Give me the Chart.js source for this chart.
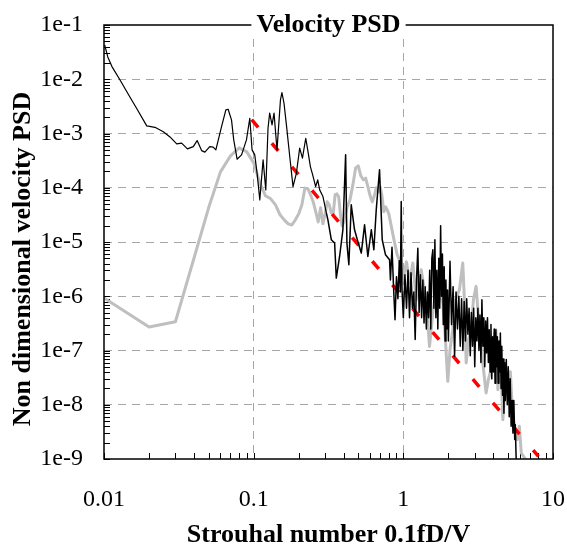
<!DOCTYPE html>
<html>
<head>
<meta charset="utf-8">
<script src="https://cdn.jsdelivr.net/npm/chart.js@4.4.0/dist/chart.umd.min.js"></script>
<style>
  html, body { margin: 0; padding: 0; background: #fff; }
  #wrap { width: 567px; height: 546px; }
</style>
</head>
<body>
<div id="wrap"><canvas id="psd" width="567" height="546"></canvas></div>
<script>
// axes: decades and their labels
const xDecades = [0.01, 0.1, 1, 10];
const xTickLabels = ['0.01', '0.1', '1', '10'];
const yDecades = [1e-9, 1e-8, 1e-7, 1e-6, 1e-5, 1e-4, 1e-3, 1e-2, 1e-1];
const yTickLabels = ['1e-9', '1e-8', '1e-7', '1e-6', '1e-5', '1e-4', '1e-3', '1e-2', '1e-1'];

// black line (noisy PSD)
const blackX = [
  0.0101, 0.0106, 0.0113, 0.0128, 0.0145, 0.0165, 0.0193, 0.0219, 0.0249, 0.0276,
  0.0306, 0.033, 0.0361, 0.0395, 0.0419, 0.0449, 0.0472, 0.0509, 0.0536, 0.0559,
  0.061, 0.0652, 0.0675, 0.0711, 0.0736, 0.0775, 0.083, 0.0895, 0.0942, 0.0976,
  0.1017, 0.1057, 0.1099, 0.1156, 0.1205, 0.1247, 0.1279, 0.1327, 0.1368, 0.1432,
  0.151, 0.1545, 0.1595, 0.1655, 0.1742, 0.1832, 0.193, 0.203, 0.2118, 0.2228,
  0.2307, 0.2393, 0.2479, 0.2595, 0.2679, 0.2761, 0.2904, 0.3062, 0.3134, 0.3304,
  0.3475, 0.3565, 0.3751, 0.3946, 0.4115, 0.4198, 0.4325, 0.4487, 0.4721, 0.4966,
  0.5236, 0.5508, 0.5794, 0.6109, 0.6353, 0.6592, 0.6934, 0.7228, 0.7603, 0.8091,
  0.82, 0.84, 0.86, 0.88, 0.90, 0.92, 0.94, 0.955, 0.968, 0.98,
  1.0, 1.025, 1.05, 1.075, 1.1, 1.125, 1.15, 1.175, 1.2, 1.225,
  1.25, 1.275, 1.3, 1.325, 1.35, 1.375, 1.4, 1.425, 1.45, 1.475,
  1.5, 1.525, 1.55, 1.575, 1.6, 1.625, 1.65, 1.675, 1.7, 1.725,
  1.75, 1.775, 1.8, 1.825, 1.85, 1.875, 1.9, 1.925, 1.95, 1.975,
  2.0, 2.05, 2.1, 2.15, 2.2, 2.25, 2.3, 2.35, 2.4, 2.45,
  2.5, 2.55, 2.6, 2.65, 2.7, 2.75, 2.8, 2.85, 2.9, 2.95,
  3.0, 3.05, 3.1, 3.15, 3.2, 3.25, 3.3, 3.35, 3.4, 3.45,
  3.5, 3.55, 3.6, 3.65, 3.7, 3.75, 3.8, 3.85, 3.9, 3.95,
  4.0, 4.05, 4.1, 4.15, 4.2, 4.25, 4.3, 4.35, 4.4, 4.45,
  4.5, 4.55, 4.6, 4.65, 4.7, 4.75, 4.8, 4.875, 4.95, 5.025,
  5.1, 5.175, 5.25, 5.325, 5.4, 5.475, 5.55, 5.6, 5.66, 5.78
];
const blackY = [
  4.3e-2, 2.58e-2, 1.71e-2, 9.7e-3, 5.36e-3, 2.92e-3, 1.38e-3, 1.3e-3, 1.08e-3, 8.65e-4,
  6.45e-4, 6.64e-4, 5.2e-4, 5.74e-4, 7.4e-4, 4.84e-4, 4.53e-4, 5.74e-4, 5.6e-4, 4.99e-4,
  1.34e-3, 2.72e-3, 2.8e-3, 1.78e-3, 7.62e-4, 3.36e-4, 4.04e-4, 7.62e-4, 1.91e-3, 4.99e-4,
  4.04e-4, 1.73e-4, 5.98e-5, 3.27e-4, 9.14e-5, 1.25e-3, 2.37e-3, 1.44e-3, 2.37e-3, 4.99e-4,
  4.16e-3, 5.66e-3, 3.61e-3, 1.44e-3, 3.76e-4, 1.05e-4, 1.86e-4, 5.36e-4, 3.51e-4, 8.18e-4,
  4.65e-4, 2.46e-4, 1.73e-4, 1.05e-4, 1.4e-4, 9.14e-5, 6.89e-5, 3.4e-5, 2.56e-5, 1.1e-5,
  9.55e-6, 2.16e-6, 5.41e-6, 1.68e-5, 4.04e-4, 9.55e-6, 3.8e-6, 4.84e-5, 1.68e-5, 1.02e-5,
  6.25e-6, 2.07e-5, 5.41e-6, 1.68e-5, 7.18e-6, 3.92e-5, 2.14e-4, 1.1e-5, 5.81e-6, 4.7e-6,
  2.0e-6, 8.0e-6, 1.5e-6, 3.7e-7, 2.3e-6, 9e-7, 4.5e-6, 1.2e-6, 5.57e-5, 1.3e-6,
  4.0e-7, 2.5e-6, 6e-7, 3.0e-6, 4e-7, 2.7e-6, 6e-7, 1.2e-6, 1.6e-7, 2.0e-6,
  7.7e-6, 5e-7, 2.5e-6, 4e-7, 2.0e-6, 3.2e-7, 1.5e-6, 2.5e-7, 1.2e-6, 4e-7,
  3.0e-6, 2.5e-7, 5e-6, 7.2e-6, 6e-7, 1.1e-5, 4e-7, 3e-6, 2.5e-7, 5e-6,
  6e-7, 2.0e-5, 1.0e-6, 6e-6, 3e-7, 3.5e-6, 1.5e-7, 2e-6, 2.5e-7, 1.3e-6,
  1.5e-7, 4.4e-6, 3e-7, 1.5e-6, 7.8e-8, 1.2e-6, 2.5e-7, 1.0e-6, 1.2e-7, 9e-7,
  1.0e-7, 8e-7, 1.5e-7, 9e-7, 2e-7, 6e-7, 8e-8, 5e-7, 1.2e-7, 6e-7,
  5e-8, 4e-7, 1.5e-7, 6e-7, 1e-7, 4.5e-7, 6e-8, 8.6e-7, 1.2e-7, 4e-7,
  5e-8, 3.5e-7, 9e-8, 4e-7, 6e-8, 2.4e-7, 4e-8, 3e-7, 3e-8, 1.8e-7,
  4e-8, 2.5e-7, 2.5e-8, 2.4e-7, 5e-8, 1.8e-7, 2.5e-8, 1.5e-7, 4e-8, 2.1e-7,
  2e-8, 1.2e-7, 1.5e-8, 7e-8, 7e-9, 6e-8, 1.2e-8, 6.8e-8, 1.0e-8, 5e-8,
  6e-9, 3e-8, 4e-9, 1.2e-8, 3e-9, 1.2e-8, 2.3e-9, 4.3e-9, 1.26e-9, 2e-10
];

// grey line
const grayX = [
  0.01, 0.02, 0.03, 0.04, 0.05, 0.06, 0.07, 0.08, 0.09, 0.1,
  0.11, 0.12, 0.13, 0.14, 0.15, 0.16, 0.17, 0.18, 0.19, 0.2,
  0.21, 0.22, 0.23, 0.24, 0.25, 0.26, 0.27, 0.28, 0.29, 0.3,
  0.31, 0.32, 0.33, 0.34, 0.35, 0.36, 0.37, 0.38, 0.39, 0.4,
  0.42, 0.44, 0.46, 0.48, 0.5, 0.52, 0.54, 0.56, 0.58, 0.6,
  0.62, 0.64, 0.66, 0.68, 0.7, 0.72, 0.74, 0.76, 0.78, 0.8,
  0.82, 0.85, 0.88, 0.91, 0.94, 0.97, 1.0, 1.05, 1.099, 1.157,
  1.219, 1.262, 1.316, 1.364, 1.422, 1.496, 1.573, 1.64, 1.699, 1.836,
  1.911, 1.982, 2.05, 2.138, 2.228, 2.371, 2.495, 2.559, 2.63, 2.722,
  2.838, 2.94, 3.063, 3.148, 3.223, 3.376, 3.572, 3.698, 3.855, 3.998,
  4.15, 4.285, 4.446, 4.624, 4.805, 5.031, 5.188, 5.346, 5.521, 5.78,
  5.96, 6.14, 6.53, 6.84
];
const grayY = [
  9.27e-7, 2.71e-7, 3.39e-7, 5.12e-6, 4.27e-5, 1.96e-4, 3.87e-4, 5.43e-4, 4.58e-4, 2.87e-4,
  1.22e-4, 7.1e-5, 6.25e-5, 4.84e-5, 3.17e-5, 2.56e-5, 2.16e-5, 2.06e-5, 2.56e-5, 3.3e-5,
  4.84e-5, 9.84e-5, 9.6e-5, 7.4e-5, 5.5e-5, 3.6e-5, 2.35e-5, 4.27e-5, 2.16e-5, 3.3e-5,
  5.5e-5, 4.84e-5, 3.45e-5, 3.3e-5, 7.4e-5, 7.7e-5, 6.8e-5, 3.17e-5, 1.99e-5, 2.35e-5,
  4.27e-5, 5.98e-5, 1.13e-4, 2.32e-4, 2.53e-4, 1.66e-4, 1.4e-4, 1.5e-4, 1.04e-4, 7.1e-5,
  5.5e-5, 7.1e-5, 1e-4, 8.4e-5, 1.04e-4, 7.1e-5, 3.6e-5, 4.45e-5, 3.92e-5, 3.3e-5,
  2.35e-5, 1.42e-5, 8.9e-6, 5.8e-6, 4.7e-6, 3.08e-6, 2.19e-6, 4.3e-6, 1.75e-6, 4.1e-6,
  8.63e-7, 2.01e-6, 3.08e-6, 1.63e-6, 7.5e-7, 1.19e-7, 4.91e-7, 1.07e-6, 1.32e-6, 7.5e-7,
  1.58e-7, 2.7e-8, 1.03e-7, 2.42e-7, 8.63e-7, 1.32e-6, 4.1e-6, 8.63e-7, 5.89e-8, 1.58e-7,
  2.42e-7, 8.63e-7, 1.52e-6, 5.64e-7, 2.42e-7, 6.78e-8, 1.65e-8, 2.9e-8, 4.43e-8, 1.58e-7,
  2.42e-7, 1.9e-8, 1.03e-7, 5.3e-9, 2.9e-8, 1.24e-8, 4.07e-8, 8.1e-9, 4.0e-9, 2.28e-9,
  4e-9, 1.29e-9, 1.0e-9, 1.5e-10
];

// red dashed reference slope
const redX = [0.097, 8.0];
const redY = [1.8e-3, 1.12e-9];

const serif = '"Liberation Serif", "Times New Roman", serif';
const toPoints = (xs, ys) => xs.map((x, i) => ({ x: x, y: ys[i] }));

function decadeIndex(v, decades) {
  return decades.findIndex(d => Math.abs(Math.log10(v / d)) < 1e-6);
}
// 1..9 in every decade, like the original minor ticks
function logTicks(decades) {
  const out = [];
  for (let i = 0; i < decades.length - 1; i++) {
    for (let m = 1; m <= 9; m++) out.push({ value: decades[i] * m });
  }
  out.push({ value: decades[decades.length - 1] });
  return out;
}
function gridColor(c, decades) {
  if (!c.tick) return 'transparent';
  const i = decadeIndex(c.tick.value, decades);
  return (i > 0 && i < decades.length - 1) ? '#a6a6a6' : 'transparent';
}

const frame = {
  id: 'frame',
  beforeDatasetsDraw(chart) {
    // small inward ticks on left and bottom axes
    const { ctx, chartArea: a, scales: { x, y } } = chart;
    ctx.save();
    ctx.strokeStyle = '#000';
    ctx.lineWidth = 1;
    ctx.beginPath();
    x.ticks.forEach(t => {
      const px = Math.round(x.getPixelForValue(t.value)) + 0.5;
      ctx.moveTo(px, a.bottom);
      ctx.lineTo(px, a.bottom - 6);
    });
    y.ticks.forEach(t => {
      const py = Math.round(y.getPixelForValue(t.value)) + 0.5;
      ctx.moveTo(a.left, py);
      ctx.lineTo(a.left + 6, py);
    });
    ctx.stroke();
    ctx.restore();
  },
  afterDatasetsDraw(chart) {
    const { ctx, chartArea: a } = chart;
    ctx.save();
    ctx.strokeStyle = '#000';
    ctx.lineWidth = 1.5;
    ctx.strokeRect(a.left, a.top, a.right - a.left, a.bottom - a.top);

    // title sits on the top border, with a white box behind it
    const cx = (a.left + a.right) / 2;
    ctx.font = 'bold 26px ' + serif;
    const w = ctx.measureText('Velocity PSD').width;
    ctx.fillStyle = '#fff';
    ctx.fillRect(cx - w / 2 - 5, a.top - 13, w + 10, 26);
    ctx.fillStyle = '#000';
    ctx.textAlign = 'center';
    ctx.textBaseline = 'alphabetic';
    ctx.fillText('Velocity PSD', cx, 32);

    // axis titles
    ctx.fillText('Strouhal number 0.1fD/V', cx, 542);
    ctx.translate(30, 259);
    ctx.rotate(-Math.PI / 2);
    ctx.fillText('Non dimensional velocity PSD', 0, 0);
    ctx.restore();
  }
};

new Chart(document.getElementById('psd'), {
  type: 'line',
  data: {
    datasets: [{
      label: 'PSD',
      data: toPoints(blackX, blackY),
      borderColor: '#000000',
      borderWidth: 1.2,
      borderJoinStyle: 'round',
      pointRadius: 0,
      tension: 0,
      // the noisy high-frequency part reads heavier in the original
      segment: { borderWidth: c => c.p0.parsed.x > 0.3 ? 1.5 : 1.2 }
    }, {
      label: 'slope',
      data: toPoints(redX, redY),
      borderColor: '#ff0000',
      borderWidth: 3.5,
      borderDash: [10, 21],
      pointRadius: 0
    }, {
      label: 'PSD 2',
      data: toPoints(grayX, grayY),
      borderColor: '#bfbfbf',
      borderWidth: 3,
      borderJoinStyle: 'round',
      pointRadius: 0,
      tension: 0
    }]
  },
  options: {
    responsive: false,
    animation: false,
    devicePixelRatio: 1,
    layout: { padding: { top: 25, right: 14, bottom: 0, left: 0 } },
    plugins: {
      legend: { display: false },
      tooltip: { enabled: false }
    },
    scales: {
      x: {
        type: 'logarithmic',
        min: 0.01,
        max: 10,
        afterBuildTicks: s => { s.ticks = logTicks(xDecades); },
        afterFit: s => { s.height = 87; s.paddingLeft = 0; s.paddingRight = 0; },
        grid: { color: c => gridColor(c, xDecades), lineWidth: 1, drawTicks: false },
        border: { display: false, dash: [8, 6] },
        ticks: {
          autoSkip: false,
          maxRotation: 0,
          minRotation: 0,
          padding: 26,
          color: '#000',
          font: { family: serif, size: 24 },
          callback: v => { const i = decadeIndex(v, xDecades); return i >= 0 ? xTickLabels[i] : ''; }
        }
      },
      y: {
        type: 'logarithmic',
        min: 1e-9,
        max: 1e-1,
        afterBuildTicks: s => { s.ticks = logTicks(yDecades); },
        afterFit: s => { s.width = 104; s.paddingTop = 0; s.paddingBottom = 0; },
        grid: { color: c => gridColor(c, yDecades), lineWidth: 1, drawTicks: false },
        border: { display: false, dash: [8, 6] },
        ticks: {
          autoSkip: false,
          padding: 21,
          color: '#000',
          font: { family: serif, size: 24 },
          callback: v => { const i = decadeIndex(v, yDecades); return i >= 0 ? yTickLabels[i] : ''; }
        }
      }
    }
  },
  plugins: [frame]
});
</script>
</body>
</html>
